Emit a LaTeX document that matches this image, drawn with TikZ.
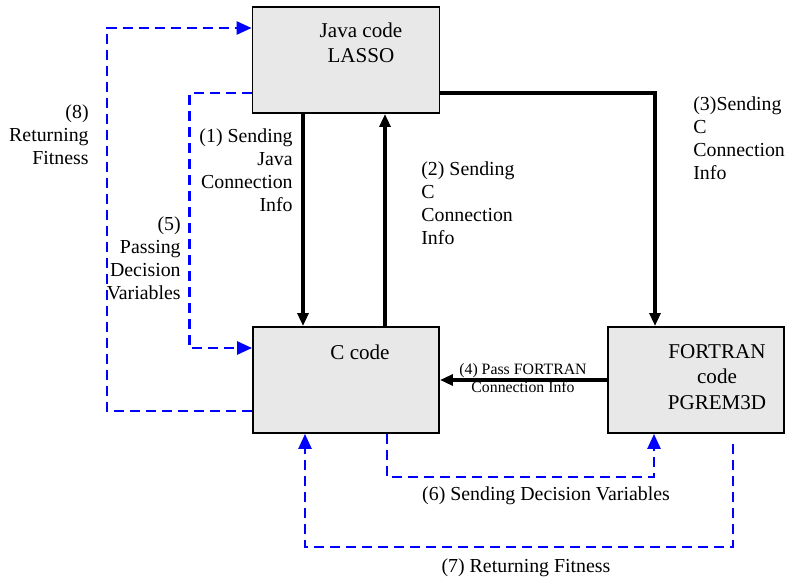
\documentclass[tikz,border=0pt]{standalone}
\usepackage{fontspec}
\setmainfont{Liberation Serif}
\usetikzlibrary{arrows.meta,calc}
\definecolor{boxgray}{RGB}{232,232,232}
\begin{document}
\begin{tikzpicture}[x=0.02cm, y=-0.02cm,
  box/.style={draw, line width=1.1pt, fill=boxgray, minimum height=2.12cm, inner sep=0pt},
  boxtext/.style={inner sep=0pt, align=center, font=\fontsize{12}{14.5}\selectfont},
  lbl/.style={inner sep=0pt, font=\fontsize{11.3}{13}\selectfont},
  flow/.style={line width=2.3pt, -{Triangle[length=7.4pt,width=6.2pt]}},
  back/.style={blue, line width=1.4pt, dash pattern=on 5.7pt off 3.4pt, -{Triangle[length=8.5pt,width=7.4pt]}}]
\useasboundingbox (0,0) rectangle (787,581);
\node[box, minimum width=3.74cm] (java) at (346,60) {};
\node[box, minimum width=3.72cm] (c) at (346,380) {};
\node[box, minimum width=3.52cm] (fort) at (696,380) {};
\node[boxtext] (javatext) at (361,43) {Java code\\LASSO};
\node[boxtext] (ctext) at (360,352) {C code};
\node[boxtext] (forttext) at (717,377) {FORTRAN\\code\\PGREM3D};
% black connection flows
\draw[flow] ($(java.south)+(-43,0)$) -- ($(c.north)+(-43,0)$);
\draw[flow] ($(c.north)+(39,0)$) -- ($(java.south)+(39,0)$);
\draw[flow] ($(java.east)+(0,33)$) -| ($(fort.north)+(-41,0)$);
\draw[flow] (fort.west) -- (c.east);
% blue dashed flows
\draw[back] ($(c.west)+(0,31)$) -- ++(-145,0) |- ($(java.west)+(0,-32)$);
\draw[back] ($(java.west)+(0,33)$) -- ++(-62,0) |- ($(c.west)+(0,-32)$);
\draw[back] ($(c.south)+(41,0)$) -- ++(0,43) -| ($(fort.south)+(-42,0)$);
\draw[back] ($(fort.south)+(37,10)$) -- ++(0,103) -| ($(c.south)+(-41,0)$);
% labels
\node[lbl, anchor=east, align=right] (l1) at (293,170) {(1) Sending\\Java\\Connection\\Info};
\node[lbl, anchor=west, align=left] (l2) at (421,203) {(2) Sending\\C\\Connection\\Info};
\node[lbl, anchor=west, align=left] (l3) at (693,138) {(3)Sending\\C\\Connection\\Info};
\node[inner sep=0pt, align=center, font=\fontsize{9}{10.2}\selectfont] (l4) at (523,378) {(4) Pass FORTRAN\\Connection Info};
\node[lbl, anchor=east, align=right] (l5) at (181,258) {(5)\\Passing\\Decision\\Variables};
\node[lbl] (l6) at (546,496) {(6) Sending Decision Variables};
\node[lbl] (l7) at (526,568) {(7) Returning Fitness};
\node[lbl, anchor=east, align=right] (l8) at (89,135) {(8)\\Returning\\Fitness};
\end{tikzpicture}
\end{document}
